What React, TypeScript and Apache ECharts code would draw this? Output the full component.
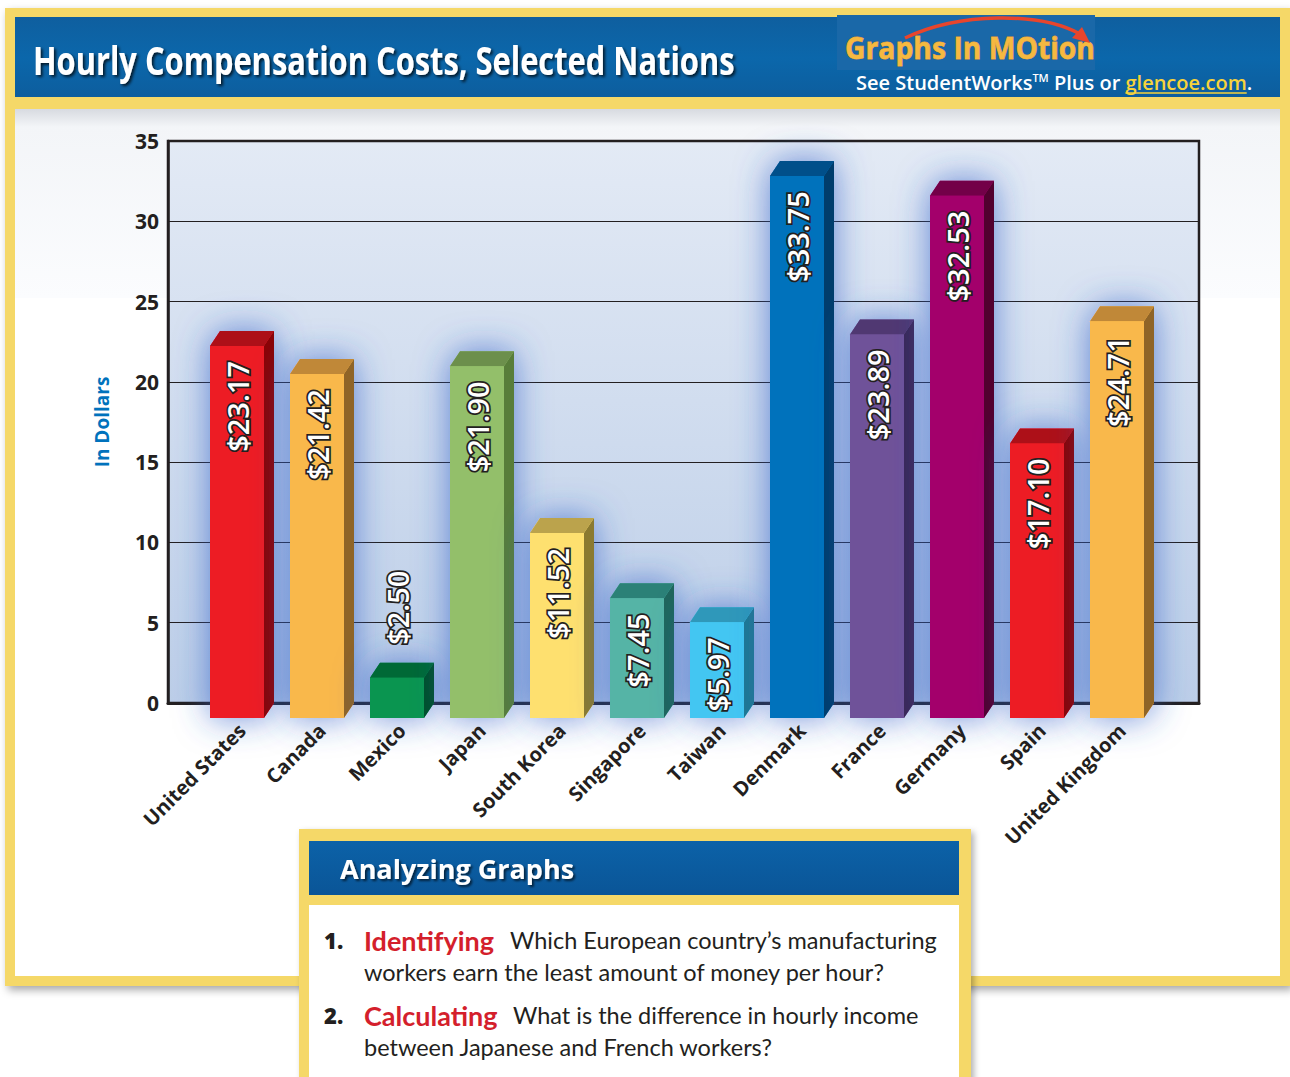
import React, { useEffect, useRef } from 'react';
import * as echarts from 'echarts';

const categories = ['United States', 'Canada', 'Mexico', 'Japan', 'South Korea', 'Singapore', 'Taiwan', 'Denmark', 'France', 'Germany', 'Spain', 'United Kingdom'];
const values = [23.17, 21.42, 2.5, 21.9, 11.52, 7.45, 5.97, 33.75, 23.89, 32.53, 17.1, 24.71];
const frontColors = ['#ed1c24', '#f9b84b', '#0a9550', '#93bf6a', '#fee06f', '#55b4a6', '#43c6f2', '#0072bc', '#6f5299', '#a3006b', '#ed1c24', '#f9b84b'];
const topColors = ['#ad1018', '#c08838', '#006936', '#6c8f4c', '#bba34c', '#2b8177', '#2f98ba', '#004f8a', '#503872', '#730048', '#ad1018', '#c08838'];
const sideColors = ['#8a0306', '#8f6427', '#00502a', '#587d3a', '#8b7a30', '#1f665c', '#1f7893', '#003d6c', '#3c2757', '#52002f', '#8a0306', '#8f6427'];
const yTicks = [0, 5, 10, 15, 20, 25, 30, 35];

const titleText = 'Hourly Compensation Costs, Selected Nations';
const yName = 'In Dollars';
const logoText = 'Graphs In MOtion';
const q1Label = 'Identifying';
const q1Line1 = 'Which European country\u2019s manufacturing';
const q1Line2 = 'workers earn the least amount of money per hour?';
const q2Label = 'Calculating';
const q2Line1 = 'What is the difference in hourly income';
const q2Line2 = 'between Japanese and French workers?';

function measure(text: string, font: string): number {
  const ctx = document.createElement('canvas').getContext('2d');
  if (!ctx) return text.length * 10;
  ctx.font = font;
  return ctx.measureText(text).width;
}

export default function App() {
  const ref = useRef<HTMLDivElement>(null);
  useEffect(() => {
    if (!ref.current) return;
    const chart = echarts.init(ref.current, undefined, { renderer: 'svg' });
    const DX = 10;
    const DY = 15;
    const dark = '#231f20';
    const yellow = '#f5d868';
    const red = '#d41f2c';

    const titleFont = 'bold 40px "Open Sans"';
    const titleScale = 702 / measure(titleText, titleFont);
    const logoFont = 'bold 30px "Open Sans"';
    const logoScale = 250 / measure(logoText, logoFont);

    const subFont = '600 20px "Open Sans"';
    const tmFont = '600 11px "Open Sans"';
    const subX = 856;
    const wPrefix = measure('See StudentWorks', subFont) + measure('TM', tmFont) + measure(' Plus or ', subFont);
    const wLink = measure('glencoe.com', subFont);

    const option: any = {
      animation: false,
      grid: [
        { left: 202, top: 141, width: 960, height: 562 },
        { left: 168, top: 141, width: 1031, height: 562, show: true, borderColor: dark, borderWidth: 2.5, backgroundColor: 'transparent' },
      ],
      xAxis: [
        {
          type: 'category', gridIndex: 0, data: categories,
          axisLine: { show: false }, axisTick: { show: false },
          axisLabel: { interval: 0, rotate: 45, margin: 24, color: dark, fontFamily: 'Open Sans', fontWeight: 'bold', fontSize: 20 },
          z: 5,
        },
        {
          type: 'value', gridIndex: 1, min: 0, max: 1,
          axisLine: { show: true, onZero: false, lineStyle: { color: dark, width: 3 } },
          axisTick: { show: false }, axisLabel: { show: false }, splitLine: { show: false },
        },
      ],
      yAxis: [
        { type: 'value', gridIndex: 0, min: yTicks[0], max: yTicks[yTicks.length - 1], show: false },
        {
          type: 'value', gridIndex: 1, min: yTicks[0], max: yTicks[yTicks.length - 1], interval: yTicks[1] - yTicks[0],
          axisLine: { show: true, lineStyle: { color: dark, width: 2.5 } },
          axisTick: { show: false },
          axisLabel: { margin: 9, color: dark, fontFamily: 'Open Sans', fontWeight: 'bold', fontSize: 21 },
          splitLine: { show: true, lineStyle: { color: dark, width: 1.2 } },
          name: yName, nameLocation: 'middle', nameGap: 57, nameRotate: 90,
          nameTextStyle: { color: '#0072bc', fontFamily: 'Open Sans', fontWeight: 'bold', fontSize: 19 },
        },
      ],
      series: [
        {
          type: 'custom', xAxisIndex: 0, yAxisIndex: 0,
          data: values.map((v, i) => [i, v]),
          encode: { x: 0, y: 1 },
          z: 3,
          renderItem: (params: any, api: any) => {
            const i = api.value(0);
            const v = api.value(1);
            const top = api.coord([i, v]);
            const base = api.coord([i, 0]);
            const c = top[0];
            const fl = c - 32;
            const fr = c + 22;
            const ft = top[1] + DY;
            const fb = base[1] + DY;
            const above = v < 4;
            const cx = (fl + fr) / 2;
            return {
              type: 'group',
              children: [
                {
                  type: 'polygon',
                  shape: { points: [[fl, ft], [fl + DX, ft - DY], [fr + DX, ft - DY], [fr + DX, fb - DY], [fr, fb], [fl, fb]] },
                  style: { fill: frontColors[i], shadowBlur: 34, shadowColor: 'rgba(45,95,200,0.7)' },
                },
                {
                  type: 'polygon',
                  shape: { points: [[fr, ft], [fr + DX, ft - DY], [fr + DX, fb - DY], [fr, fb]] },
                  style: { fill: sideColors[i] },
                },
                {
                  type: 'polygon',
                  shape: { points: [[fl, ft], [fl + DX, ft - DY], [fr + DX, ft - DY], [fr, ft]] },
                  style: { fill: topColors[i] },
                },
                {
                  type: 'rect',
                  shape: { x: fl, y: ft, width: fr - fl, height: fb - ft },
                  style: { fill: frontColors[i] },
                },
                {
                  type: 'text',
                  x: cx,
                  y: above ? top[1] - 18 : ft + 15,
                  rotation: Math.PI / 2,
                  style: {
                    text: '$' + v.toFixed(2),
                    fill: '#ffffff', stroke: dark, lineWidth: 3.5,
                    fontFamily: 'Open Sans', fontWeight: 600, fontSize: 29,
                    align: above ? 'left' : 'right', verticalAlign: 'middle',
                  },
                },
              ],
            };
          },
        },
      ],
      graphic: [
        // outer frame
        { type: 'rect', z: -30, shape: { x: 10, y: 13, width: 1275, height: 968 },
          style: { fill: '#ffffff', stroke: yellow, lineWidth: 10, shadowBlur: 8, shadowOffsetY: 4, shadowOffsetX: 3, shadowColor: 'rgba(0,0,0,0.35)' } },
        // faint tint under header
        { type: 'rect', z: -29, shape: { x: 15, y: 108, width: 1265, height: 190 },
          style: { fill: new echarts.graphic.LinearGradient(0, 0, 0, 1, [{ offset: 0, color: '#d6d9df' }, { offset: 0.1, color: '#f3f5f8' }, { offset: 1, color: '#fbfcfe' }]) } },
        // header band
        { type: 'rect', z: -28, shape: { x: 15, y: 17, width: 1265, height: 82 },
          style: { fill: new echarts.graphic.LinearGradient(0, 0, 0, 1, [{ offset: 0, color: '#0f5f9f' }, { offset: 0.5, color: '#0b67ab' }, { offset: 1, color: '#0d5d9d' }]) } },
        { type: 'rect', z: -27, shape: { x: 837, y: 15, width: 258, height: 55 }, style: { fill: '#1a68a8' } },
        { type: 'rect', z: -26, shape: { x: 10, y: 97, width: 1275, height: 12 }, style: { fill: yellow } },
        // plot background
        { type: 'rect', z: -20, shape: { x: 168, y: 141, width: 1031, height: 562 },
          style: { fill: new echarts.graphic.LinearGradient(0, 0, 0, 1, [{ offset: 0, color: '#e3eaf5' }, { offset: 1, color: '#bccee8' }]) } },
        // title
        { type: 'text', z: 10, x: 33, y: 59, scaleX: titleScale,
          style: { text: titleText, fill: '#ffffff', font: titleFont, verticalAlign: 'middle',
            textShadowColor: 'rgba(0,0,0,0.75)', textShadowBlur: 3, textShadowOffsetX: 2, textShadowOffsetY: 2 } },
        // logo
        { type: 'text', z: 10, x: 845, y: 48, scaleX: logoScale,
          style: { text: logoText, font: logoFont, verticalAlign: 'middle', fill: '#f5b941', stroke: '#e89a33', lineWidth: 0.8 } },
        { type: 'bezierCurve', z: 11, shape: { x1: 905, y1: 38, cpx1: 960, cpy1: 12, cpx2: 1040, cpy2: 12, x2: 1080, y2: 34 },
          style: { stroke: '#e8452c', lineWidth: 3.5, fill: null } },
        { type: 'polygon', z: 11, shape: { points: [[1090, 43], [1072, 38], [1082, 27]] }, style: { fill: '#e8452c' } },
        { type: 'text', z: 10, x: subX, y: 82,
          style: { text: 'See StudentWorks{tm|TM} Plus or ', fill: '#ffffff', font: subFont, verticalAlign: 'middle',
            rich: { tm: { fill: '#ffffff', color: '#ffffff', fontFamily: 'Open Sans', fontWeight: 600, fontSize: 11, verticalAlign: 'top' } } } },
        { type: 'text', z: 10, x: subX + wPrefix, y: 82,
          style: { text: 'glencoe.com', fill: '#f7d33a', font: subFont, verticalAlign: 'middle' } },
        { type: 'text', z: 10, x: subX + wPrefix + wLink, y: 82,
          style: { text: '.', fill: '#ffffff', font: subFont, verticalAlign: 'middle' } },
        { type: 'line', z: 10, shape: { x1: subX + wPrefix, y1: 93, x2: subX + wPrefix + wLink, y2: 93 }, style: { stroke: '#f7d33a', lineWidth: 1.5 } },
        // Analyzing Graphs box
        { type: 'rect', z: 20, shape: { x: 299, y: 829, width: 672, height: 260 },
          style: { fill: yellow, shadowBlur: 6, shadowOffsetX: 3, shadowOffsetY: 3, shadowColor: 'rgba(0,0,0,0.3)' } },
        { type: 'rect', z: 21, shape: { x: 309, y: 841, width: 650, height: 54 },
          style: { fill: new echarts.graphic.LinearGradient(0, 0, 0, 1, [{ offset: 0, color: '#0c62a8' }, { offset: 1, color: '#0a5597' }]) } },
        { type: 'rect', z: 21, shape: { x: 309, y: 905, width: 650, height: 180 }, style: { fill: '#ffffff' } },
        { type: 'text', z: 22, x: 340, y: 868,
          style: { text: 'Analyzing Graphs', fill: '#ffffff', fontFamily: 'Open Sans', fontWeight: 'bold', fontSize: 27, verticalAlign: 'middle',
            textShadowColor: 'rgba(0,0,0,0.6)', textShadowBlur: 2, textShadowOffsetX: 2, textShadowOffsetY: 2 } },
        { type: 'text', z: 22, x: 324, y: 940, style: { text: '1.', fill: dark, fontFamily: 'Open Sans', fontWeight: 800, fontSize: 22, verticalAlign: 'middle' } },
        { type: 'text', z: 22, x: 364, y: 940, style: { text: q1Label, fill: red, fontFamily: 'Lato', fontWeight: 'bold', fontSize: 27, verticalAlign: 'middle' } },
        { type: 'text', z: 22, x: 510, y: 940, style: { text: q1Line1, fill: dark, fontFamily: 'Lato', fontSize: 23.5, verticalAlign: 'middle' } },
        { type: 'text', z: 22, x: 364, y: 972, style: { text: q1Line2, fill: dark, fontFamily: 'Lato', fontSize: 23.5, verticalAlign: 'middle' } },
        { type: 'text', z: 22, x: 324, y: 1015, style: { text: '2.', fill: dark, fontFamily: 'Open Sans', fontWeight: 800, fontSize: 22, verticalAlign: 'middle' } },
        { type: 'text', z: 22, x: 364, y: 1015, style: { text: q2Label, fill: red, fontFamily: 'Lato', fontWeight: 'bold', fontSize: 27, verticalAlign: 'middle' } },
        { type: 'text', z: 22, x: 513, y: 1015, style: { text: q2Line1, fill: dark, fontFamily: 'Lato', fontSize: 23.5, verticalAlign: 'middle' } },
        { type: 'text', z: 22, x: 364, y: 1047, style: { text: q2Line2, fill: dark, fontFamily: 'Lato', fontSize: 23.5, verticalAlign: 'middle' } },
      ],
    };
    chart.setOption(option);
    return () => chart.dispose();
  }, []);
  return <div ref={ref} style={{ position: 'absolute', left: 0, top: 0, width: 1290, height: 1077 }} />;
}
